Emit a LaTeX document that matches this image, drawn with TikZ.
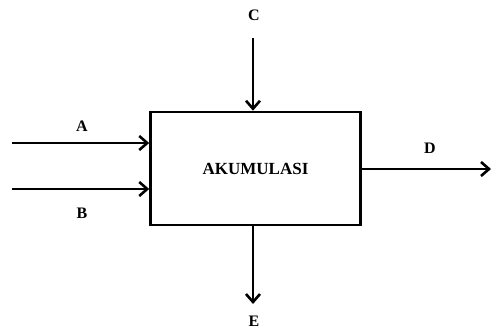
\documentclass[tikz,border=0pt]{standalone}
\usepackage{fontspec}
\setmainfont{Liberation Serif}
\usetikzlibrary{arrows.meta}
\begin{document}
\begin{tikzpicture}[x=1pt,y=-1pt,
  flow/.style={line width=2.6pt,-{Straight Barb[length=8pt,width=14pt,line width=2.6pt]}},
  lbl/.style={font=\fontsize{16}{18}\selectfont\bfseries,inner sep=0pt},
  procbox/.style={draw,line width=2.6pt,minimum width=210pt,minimum height=113pt,inner sep=0pt,font=\fontsize{17}{19}\selectfont\bfseries}]
\useasboundingbox (0,0) rectangle (491,334);
\node[procbox] (box) at (255.5,168.5) {AKUMULASI};
\coordinate (aS) at (12,143);
\coordinate (bS) at (12,189);
\coordinate (cS) at (253,38);
\coordinate (dE) at (491,169);
\coordinate (eE) at (253,304);
\draw[flow] (aS) -- (aS -| box.west);
\draw[flow] (bS) -- (bS -| box.west);
\draw[flow] (cS) -- (cS |- box.north);
\draw[flow] (dE -| box.east) -- (dE);
\draw[flow] (eE |- box.south) -- (eE);
\node[lbl] (la) at (82,126) {A};
\node[lbl] (lb) at (82,213) {B};
\node[lbl] (lc) at (254,15) {C};
\node[lbl] (ld) at (430,148) {D};
\node[lbl] (le) at (254,321) {E};
\end{tikzpicture}
\end{document}
